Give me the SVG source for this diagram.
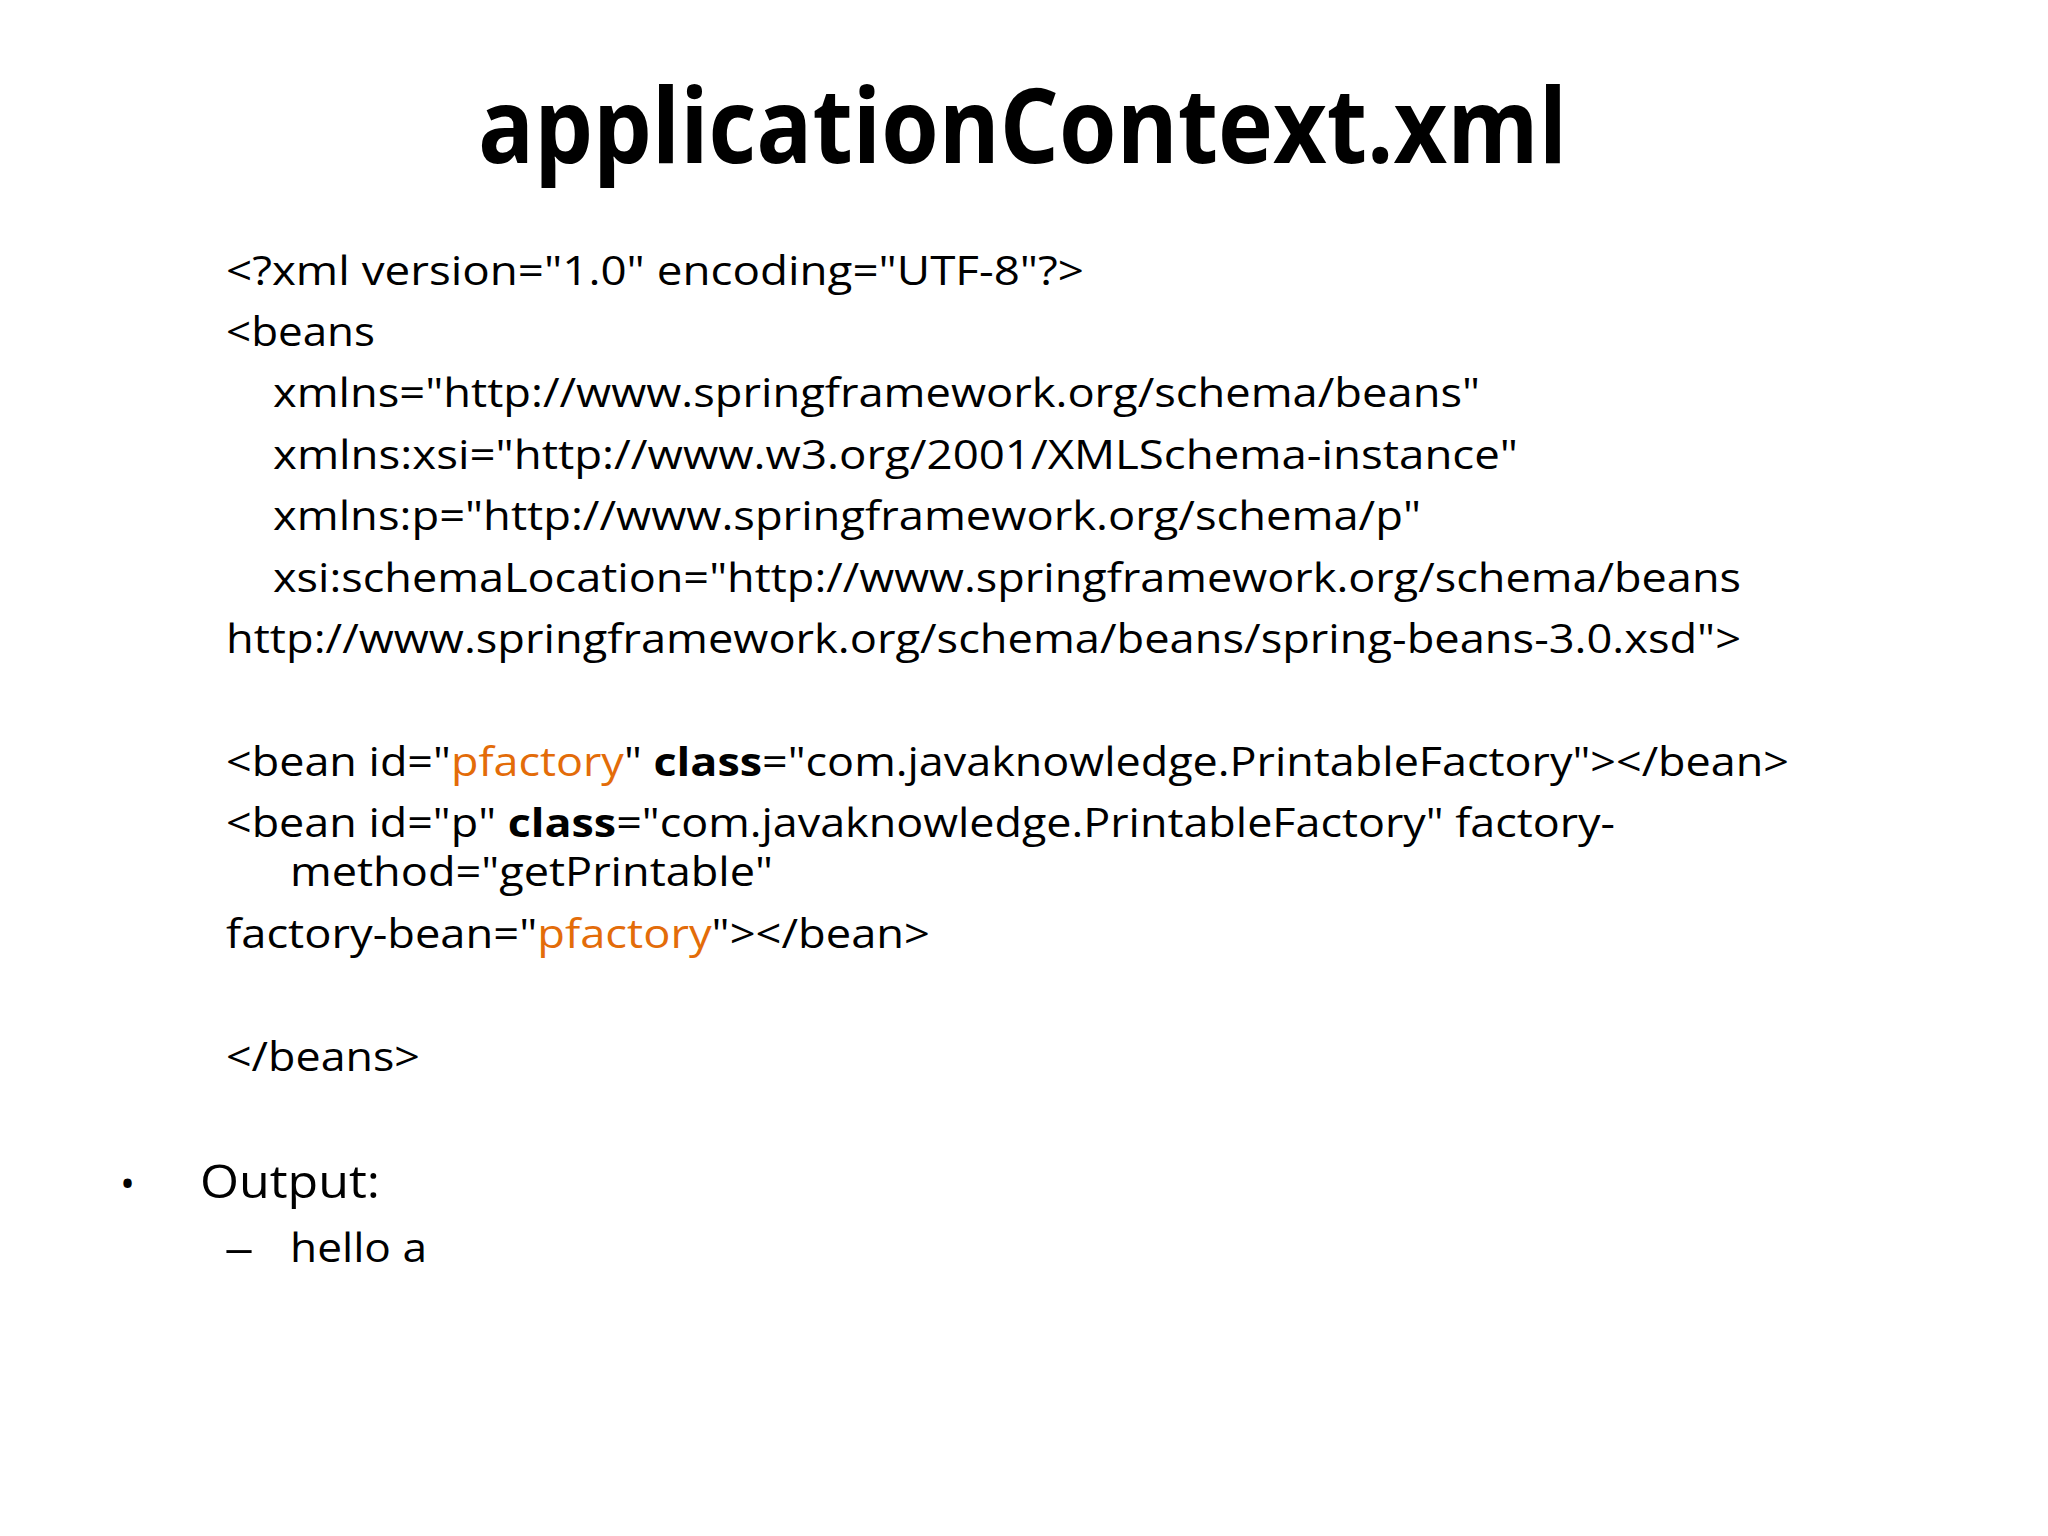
<svg xmlns="http://www.w3.org/2000/svg" width="2048" height="1536" viewBox="0 0 2048 1536">
<style>
text{font-family:"Open Sans","Liberation Sans",sans-serif;fill:#000;font-size:40px}
.t{font-weight:bold;font-size:104px}
.o{fill:#E36C09}
.b{font-weight:bold}
.l{font-size:46px}
</style>
<rect width="2048" height="1536" fill="#fff"/>
<text class="t" x="478" y="163" textLength="1089" lengthAdjust="spacingAndGlyphs">applicationContext.xml</text>
<g id="code">
<text x="226" y="285" textLength="858" lengthAdjust="spacingAndGlyphs">&lt;?xml version="1.0" encoding="UTF-8"?&gt;</text>
<text x="226" y="346" textLength="149" lengthAdjust="spacingAndGlyphs">&lt;beans</text>
<text x="273" y="407" textLength="1207" lengthAdjust="spacingAndGlyphs">xmlns="http://www.springframework.org/schema/beans"</text>
<text x="273" y="469" textLength="1245" lengthAdjust="spacingAndGlyphs">xmlns:xsi="http://www.w3.org/2001/XMLSchema-instance"</text>
<text x="273" y="530" textLength="1148" lengthAdjust="spacingAndGlyphs">xmlns:p="http://www.springframework.org/schema/p"</text>
<text x="273" y="592" textLength="1468" lengthAdjust="spacingAndGlyphs">xsi:schemaLocation="http://www.springframework.org/schema/beans</text>
<text x="226" y="653" textLength="1515" lengthAdjust="spacingAndGlyphs">http://www.springframework.org/schema/beans/spring-beans-3.0.xsd"&gt;</text>
<text x="226" y="776" textLength="1563" lengthAdjust="spacingAndGlyphs">&lt;bean id="<tspan class="o">pfactory</tspan>" <tspan class="b">class</tspan>="com.javaknowledge.PrintableFactory"&gt;&lt;/bean&gt;</text>
<text x="226" y="837" textLength="1389" lengthAdjust="spacingAndGlyphs">&lt;bean id="p" <tspan class="b">class</tspan>="com.javaknowledge.PrintableFactory" factory-</text>
<text x="290" y="886" textLength="483" lengthAdjust="spacingAndGlyphs">method="getPrintable"</text>
<text x="226" y="948" textLength="704" lengthAdjust="spacingAndGlyphs">factory-bean="<tspan class="o">pfactory</tspan>"&gt;&lt;/bean&gt;</text>
<text x="226" y="1071" textLength="194" lengthAdjust="spacingAndGlyphs">&lt;/beans&gt;</text>
</g>
<g id="output">
<text x="120" y="1198" font-size="60">•</text>
<text class="l" x="200" y="1198" textLength="180" lengthAdjust="spacingAndGlyphs">Output:</text>
<text x="224" y="1262" textLength="30" lengthAdjust="spacingAndGlyphs">–</text>
<text x="290" y="1262" textLength="137" lengthAdjust="spacingAndGlyphs">hello a</text>
</g>
</svg>
